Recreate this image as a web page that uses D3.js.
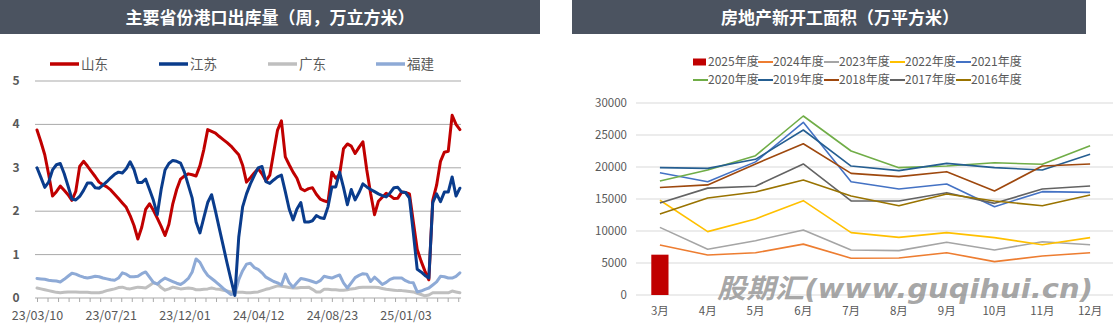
<!DOCTYPE html>
<html>
<head>
<meta charset="utf-8">
<script src="https://cdn.jsdelivr.net/npm/d3@7"></script>
<style>
  html, body { margin: 0; padding: 0; background: #ffffff; }
  svg { display: block; font-family: "Microsoft YaHei", "Noto Sans CJK SC", sans-serif; }
</style>
</head>
<body>
<svg id="chart" width="1113" height="323"></svg>
<script>
// ---------- Weekly port outflow by province (10k m³) ----------
const portTitle = "主要省份港口出库量（周，万立方米）";
const portFirstWeek = "2023-03-10";
const portTickLabels = ["23/03/10", "23/07/21", "23/12/01", "24/04/12", "24/08/23", "25/01/03"];
const portYTicks = [0, 1, 2, 3, 4, 5];
const portNames = ["山东", "江苏", "广东", "福建"];

const shandong = [
  3.87, 3.6, 3.3, 2.85, 2.35, 2.45, 2.58, 2.48, 2.38, 2.25,
  2.46, 3.03, 3.15, 3.04, 2.92, 2.8, 2.67, 2.61, 2.56, 2.49,
  2.39, 2.29, 2.19, 2.09, 1.9, 1.67, 1.36, 1.63, 2.04, 2.17,
  2.02, 1.84, 1.65, 1.44, 1.7, 2.17, 2.5, 2.74, 2.81, 2.86,
  2.84, 2.81, 3.05, 3.42, 3.88, 3.84, 3.8, 3.72, 3.65, 3.58,
  3.5, 3.4, 3.3, 3.06, 2.67, 2.77, 2.88, 2.98, 2.86, 2.7,
  2.83, 3.35, 3.87, 4.08, 3.25, 3.07, 2.9, 2.76, 2.52, 2.47,
  2.52, 2.54, 2.39, 2.28, 2.24, 2.21, 2.9, 2.76, 2.85, 3.44,
  3.55, 3.5, 3.33, 3.47, 3.6, 2.95, 2.4, 1.92, 2.23, 2.32,
  2.41, 2.36, 2.29, 2.3, 2.44, 2.43, 2.4, 1.75, 1.12, 0.85,
  0.62, 0.42, 2.25, 2.6, 3.15, 3.36, 3.38, 4.21, 4.0, 3.88
];
const jiangsu = [
  3.0, 2.78, 2.55, 2.67, 2.95, 3.07, 3.1, 2.87, 2.58, 2.28,
  2.26, 2.34, 2.48, 2.65, 2.65, 2.54, 2.53, 2.6, 2.68, 2.77,
  2.85, 2.9, 2.88, 2.98, 3.14, 2.96, 2.66, 2.66, 2.74, 2.5,
  2.25, 1.92, 2.5, 2.95, 3.1, 3.17, 3.15, 3.11, 2.9, 2.6,
  2.3, 1.75, 1.5, 1.85, 2.2, 2.38, 2.0, 1.6, 1.2, 0.8,
  0.42, 0.06, 1.4, 2.1, 2.4, 2.63, 2.82, 3.0, 3.03, 2.68,
  2.64, 2.72, 2.79, 2.83, 2.45, 2.05, 1.8, 2.05, 2.2, 1.75,
  1.75, 1.78, 1.9, 1.85, 1.83, 2.1, 2.56, 2.56, 2.9, 2.55,
  2.15, 2.5, 2.26, 2.43, 2.63, 2.56, 2.5, 2.45, 2.4, 2.36,
  2.33, 2.42, 2.54, 2.55, 2.44, 2.43, 2.3, 1.5, 0.66, 0.6,
  0.52, 0.46, 2.2, 2.4, 2.22, 2.44, 2.44, 2.79, 2.35, 2.53
];
const guangdong = [
  0.23, 0.21, 0.19, 0.17, 0.15, 0.13, 0.12, 0.13, 0.14, 0.14,
  0.14, 0.13, 0.13, 0.13, 0.12, 0.12, 0.12, 0.14, 0.17, 0.19,
  0.21, 0.24, 0.25, 0.22, 0.21, 0.23, 0.25, 0.24, 0.23, 0.29,
  0.35, 0.33, 0.24, 0.18, 0.21, 0.25, 0.23, 0.21, 0.22, 0.23,
  0.22, 0.19, 0.19, 0.2, 0.21, 0.23, 0.21, 0.2, 0.18, 0.16,
  0.14, 0.14, 0.13, 0.13, 0.12, 0.12, 0.13, 0.14, 0.17, 0.2,
  0.22, 0.25, 0.28, 0.27, 0.26, 0.24, 0.23, 0.23, 0.24, 0.24,
  0.25, 0.2, 0.14, 0.14, 0.2, 0.2, 0.19, 0.19, 0.18, 0.18,
  0.19, 0.21, 0.22, 0.24, 0.25, 0.25, 0.25, 0.25, 0.24, 0.22,
  0.2, 0.19, 0.18, 0.17, 0.17, 0.16, 0.15, 0.14, 0.11, 0.08,
  0.05, 0.07, 0.12, 0.12, 0.12, 0.12, 0.12, 0.16, 0.14, 0.12
];
const fujian = [
  0.45, 0.44, 0.43, 0.41, 0.4, 0.39, 0.37, 0.43, 0.5, 0.57,
  0.55, 0.51, 0.48, 0.46, 0.48, 0.5, 0.49, 0.46, 0.44, 0.42,
  0.41, 0.46, 0.58, 0.55, 0.49, 0.49, 0.5, 0.56, 0.6, 0.48,
  0.36, 0.32, 0.4, 0.46, 0.42, 0.38, 0.34, 0.31, 0.37, 0.45,
  0.6, 0.9, 0.82, 0.65, 0.52, 0.45, 0.38, 0.3, 0.22, 0.15,
  0.08, 0.1, 0.42, 0.63, 0.78, 0.8, 0.7, 0.66, 0.58, 0.48,
  0.43, 0.38, 0.35, 0.3, 0.55, 0.35, 0.25, 0.35, 0.45, 0.43,
  0.41, 0.38, 0.35, 0.4, 0.5, 0.48, 0.46, 0.5, 0.53, 0.35,
  0.23, 0.35, 0.47, 0.52, 0.56, 0.55, 0.38, 0.48, 0.4, 0.31,
  0.36, 0.43, 0.46, 0.46, 0.46, 0.4, 0.36, 0.35, 0.14, 0.16,
  0.2, 0.23, 0.3, 0.37, 0.5, 0.49, 0.46, 0.46, 0.5, 0.58
];

// ---------- Housing new starts by month (10k m²) ----------
const startsTitle = "房地产新开工面积（万平方米）";
const months = ["3月", "4月", "5月", "6月", "7月", "8月", "9月", "10月", "11月", "12月"];
const startsYTicks = [0, 5000, 10000, 15000, 20000, 25000, 30000];
const yearNames = ["2025年度", "2024年度", "2023年度", "2022年度", "2021年度",
                   "2020年度", "2019年度", "2018年度", "2017年度", "2016年度"];
const starts2025 = [6300];
const starts2024 = [7800, 6250, 6600, 7950, 5750, 5780, 6610, 5210, 6090, 6610];
const starts2023 = [10570, 7140, 8490, 10150, 7030, 6930, 8230, 7030, 8330, 7860];
const starts2022 = [14800, 9900, 11880, 14740, 9740, 9010, 9740, 8960, 7860, 8960];
const starts2021 = [19100, 17700, 20800, 26980, 17700, 16560, 17340, 13800, 16150, 16040];
const starts2020 = [17800, 19530, 21770, 27970, 22500, 19900, 20150, 20670, 20420, 23330];
const starts2019 = [19900, 19790, 21200, 25780, 20150, 19430, 20570, 19900, 19530, 21980];
const starts2018 = [16800, 17200, 20470, 23640, 19000, 18490, 19270, 16250, 20150, 20470];
const starts2017 = [14375, 16700, 17000, 20470, 14690, 14690, 15990, 14320, 16560, 17030];
const starts2016 = [12650, 15150, 16100, 17970, 15470, 13950, 15780, 14690, 13950, 15625];
const watermarkText = "股期汇(www.guqihui.cn)";

// ---------- shared styling ----------
const titleFill = "#4b5360";
const textGrey = "#595959";
const svg = d3.select("#chart");

// =====================================================================
// Left panel: weekly port outflow
// =====================================================================
const parseISO = d3.timeParse("%Y-%m-%d");
const parseTick = d3.timeParse("%y/%m/%d");
const fmtTick = d3.timeFormat("%y/%m/%d");
const firstWeek = parseISO(portFirstWeek);
const weeks = shandong.map((_, i) => d3.timeWeek.offset(firstWeek, i));

const L = { left: 35, right: 461, top: 81, bottom: 298 };

svg.append("rect").attr("x", 0).attr("y", 0).attr("width", 540).attr("height", 34).attr("fill", titleFill);
svg.append("text").attr("x", 270).attr("y", 23.5).attr("text-anchor", "middle")
  .attr("fill", "#ffffff").attr("font-size", 17).attr("font-weight", "bold").text(portTitle);

const xPort = d3.scaleTime()
  .domain([weeks[0], d3.timeDay.offset(weeks[weeks.length - 1], 2)])
  .range([37, L.right]);
const yPort = d3.scaleLinear().domain([0, 5]).range([L.bottom, L.top]);

// horizontal grid
svg.append("g").selectAll("line").data(portYTicks.filter(d => d > 0)).join("line")
  .attr("x1", L.left).attr("x2", L.right)
  .attr("y1", d => yPort(d)).attr("y2", d => yPort(d))
  .attr("stroke", "#a9a9a9").attr("stroke-width", 1);

// y labels
svg.append("g").selectAll("text").data(portYTicks).join("text")
  .attr("x", 16).attr("y", d => yPort(d)).attr("dy", "0.33em").attr("text-anchor", "middle")
  .attr("fill", textGrey).attr("font-size", 12).attr("font-weight", "bold")
  .text(d => d);

// x axis: minor tick marks every 19 days, labels every 19 weeks
const minorTicks = d3.timeDay.range(weeks[0], xPort.domain()[1], 1)
  .filter((d, i) => i % 19 === 0);
const minorAxis = d3.axisBottom(xPort).tickValues(minorTicks).tickSize(4).tickFormat("");
const gMinor = svg.append("g").attr("transform", `translate(0,${L.bottom})`).call(minorAxis);
gMinor.select(".domain").attr("d", `M${L.left},0H${L.right}`).attr("stroke", "#a9a9a9");
gMinor.selectAll(".tick line").attr("stroke", "#a9a9a9");

const labelAxis = d3.axisBottom(xPort)
  .tickValues(portTickLabels.map(parseTick))
  .tickSize(0).tickPadding(13).tickFormat(fmtTick);
const gLab = svg.append("g").attr("transform", `translate(0,${L.bottom})`).call(labelAxis);
gLab.select(".domain").remove();
gLab.selectAll("text").attr("fill", textGrey).attr("font-size", 12.5)
  .attr("font-family", "\"Microsoft YaHei\", \"Noto Sans CJK SC\", sans-serif");

// series
const portSeries = [
  { name: "广东", values: guangdong, color: "#bfbfbf" },
  { name: "福建", values: fujian, color: "#8eaad6" },
  { name: "山东", values: shandong, color: "#c00000" },
  { name: "江苏", values: jiangsu, color: "#0a3c8c" }
];
const portLine = d3.line().x((d, i) => xPort(weeks[i])).y(d => yPort(d));
svg.append("g").selectAll("path").data(portSeries).join("path")
  .attr("d", s => portLine(s.values))
  .attr("fill", "none").attr("stroke", s => s.color)
  .attr("stroke-width", 3).attr("stroke-linejoin", "round").attr("stroke-linecap", "round");

// legend
const portLegendX = [50, 159, 268, 376];
const portColorByName = Object.fromEntries(portSeries.map(s => [s.name, s.color]));
const gLegL = svg.append("g").selectAll("g").data(portNames).join("g")
  .attr("transform", (d, i) => `translate(${portLegendX[i]},64)`);
gLegL.append("line").attr("x1", 0).attr("x2", 29).attr("y1", 0).attr("y2", 0)
  .attr("stroke", d => portColorByName[d]).attr("stroke-width", 3.5);
gLegL.append("text").attr("x", 31).attr("dy", "0.35em")
  .attr("fill", textGrey).attr("font-size", 13.5).text(d => d);

// =====================================================================
// Right panel: monthly housing new starts
// =====================================================================
const R = { left: 636, right: 1114, top: 103, bottom: 295 };

svg.append("rect").attr("x", 572).attr("y", 0).attr("width", 514).attr("height", 34).attr("fill", titleFill);
svg.append("text").attr("x", 840).attr("y", 23.5).attr("text-anchor", "middle")
  .attr("fill", "#ffffff").attr("font-size", 17).attr("font-weight", "bold").text(startsTitle);

const xMonth = d3.scaleBand().domain(months).range([R.left, R.right]).padding(0);
const yStarts = d3.scaleLinear().domain([0, 30000]).range([R.bottom, R.top]);

svg.append("g").selectAll("line").data(startsYTicks).join("line")
  .attr("x1", R.left).attr("x2", R.right)
  .attr("y1", d => yStarts(d)).attr("y2", d => yStarts(d))
  .attr("stroke", "#d9d9d9").attr("stroke-width", 1);

const yAxisR = d3.axisLeft(yStarts).tickValues(startsYTicks).tickSize(0).tickPadding(0).tickFormat(d => d);
const gYR = svg.append("g").attr("transform", `translate(627,0)`).call(yAxisR);
gYR.select(".domain").remove();
gYR.selectAll("text").attr("fill", textGrey).attr("font-size", 11.5)
  .attr("font-family", "\"Microsoft YaHei\", \"Noto Sans CJK SC\", sans-serif");

const xAxisR = d3.axisBottom(xMonth).tickSize(0).tickPadding(12);
const gXR = svg.append("g").attr("transform", `translate(0,${R.bottom})`).call(xAxisR);
gXR.select(".domain").remove();
gXR.selectAll("text").attr("fill", textGrey).attr("font-size", 11.5)
  .attr("font-family", "\"Microsoft YaHei\", \"Noto Sans CJK SC\", sans-serif");

const yearColors = ["#c00000", "#ed7d31", "#a5a5a5", "#ffc000", "#4472c4",
                    "#70ad47", "#255e91", "#9e480e", "#636363", "#997300"];
const yearValues = [starts2025, starts2024, starts2023, starts2022, starts2021,
                    starts2020, starts2019, starts2018, starts2017, starts2016];

// current year as bars
const barW = xMonth.bandwidth() * 0.36;
svg.append("g").selectAll("rect").data(starts2025).join("rect")
  .attr("x", (d, i) => xMonth(months[i]) + (xMonth.bandwidth() - barW) / 2)
  .attr("width", barW)
  .attr("y", d => yStarts(d)).attr("height", d => yStarts(0) - yStarts(d))
  .attr("fill", yearColors[0]);

// earlier years as lines
const monthLine = d3.line().x((d, i) => xMonth(months[i]) + xMonth.bandwidth() / 2).y(d => yStarts(d));
const lineYears = yearValues.slice(1).map((v, k) => ({ values: v, color: yearColors[k + 1] }));
svg.append("g").selectAll("path").data(lineYears).join("path")
  .attr("d", s => monthLine(s.values))
  .attr("fill", "none").attr("stroke", s => s.color).attr("stroke-width", 1.6)
  .attr("stroke-linejoin", "round");

// legend: two rows of five
const legX = [693, 758, 824, 890, 956];
const legY = [62, 80];
const gLegR = svg.append("g").selectAll("g").data(yearNames).join("g")
  .attr("transform", (d, i) => `translate(${legX[i % 5]},${legY[Math.floor(i / 5)]})`);
gLegR.each(function (d, i) {
  const g = d3.select(this);
  if (i === 0) {
    g.append("rect").attr("x", 0).attr("y", -3.5).attr("width", 13).attr("height", 7).attr("fill", yearColors[i]);
  } else {
    g.append("line").attr("x1", 0).attr("x2", 15).attr("y1", 0).attr("y2", 0)
      .attr("stroke", yearColors[i]).attr("stroke-width", 2);
  }
});
gLegR.append("text").attr("x", 15).attr("dy", "0.35em")
  .attr("fill", textGrey).attr("font-size", 12).text(d => d);

// site mark across the lower part of the right panel
svg.append("text").attr("x", 717).attr("y", 298)
  .attr("font-size", 27).attr("font-weight", "bold").attr("font-style", "italic")
  .attr("fill", "#8f8f8f").attr("fill-opacity", 0.8)
  .attr("textLength", 376).attr("lengthAdjust", "spacingAndGlyphs")
  .attr("font-family", "\"DejaVu Sans\", \"Noto Sans CJK SC\", sans-serif")
  .text(watermarkText);
</script>
</body>
</html>
